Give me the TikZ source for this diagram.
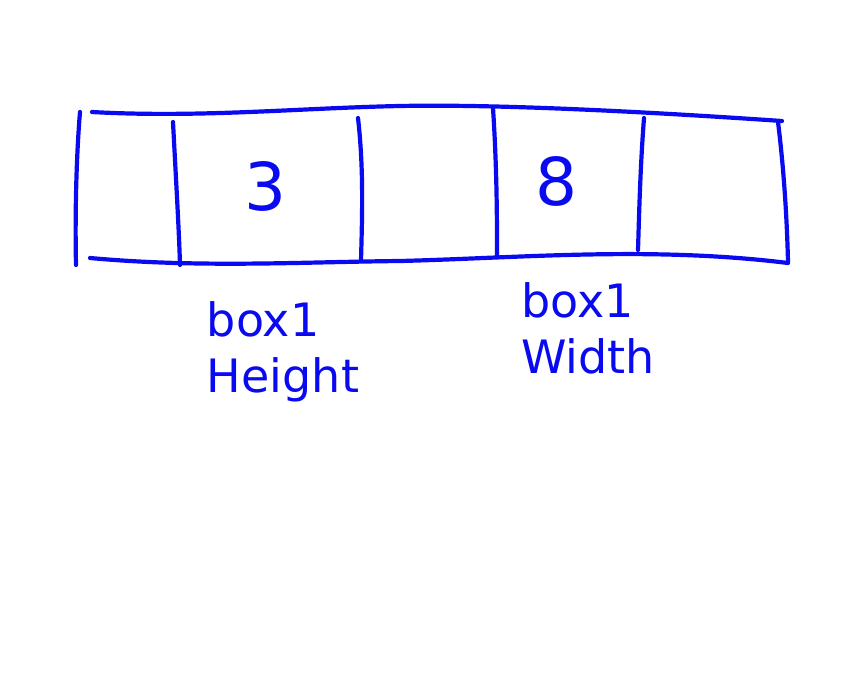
\documentclass[tikz,border=0pt]{standalone}
\usepackage{fontspec}
\setmainfont{DejaVu Sans}
\definecolor{pen}{RGB}{10,10,240}
\begin{document}
\begin{tikzpicture}[x=1pt,y=-1pt,
  stroke/.style={draw=pen,line width=4.2pt,line cap=round,line join=round},
  digit/.style={text=pen,font=\fontsize{66}{66}\selectfont},
  lbl/.style={text=pen,font=\fontsize{46}{56}\selectfont,align=left}]
\useasboundingbox (0,0) rectangle (860,675);
% outer frame
\draw[stroke] (92,112) .. controls (200,118) and (300,108) .. (400,106)
  .. controls (500,104) and (650,112) .. (782,121);
\draw[stroke] (80,112) .. controls (76,160) and (75,220) .. (76,265);
\draw[stroke] (90,258) .. controls (200,268) and (300,262) .. (400,261)
  .. controls (520,258) and (650,246) .. (788,263);
\draw[stroke] (778,122) .. controls (784,170) and (787,220) .. (788,262);
% dividers
\draw[stroke] (173,122) .. controls (176,180) and (179,230) .. (180,265);
\draw[stroke] (358,118) .. controls (364,170) and (362,220) .. (361,261);
\draw[stroke] (493,108) .. controls (497,170) and (497,220) .. (497,255);
\draw[stroke] (644,118) .. controls (640,170) and (639,220) .. (638,250);
% values
\node[digit] (v3) at (265,186) {3};
\node[digit] (v8) at (556,181) {8};
% labels
\node[lbl] (hgt) at (283,352) {box1\\Height};
\node[lbl] (wid) at (588,328) {box1\\Width};
\end{tikzpicture}
\end{document}
